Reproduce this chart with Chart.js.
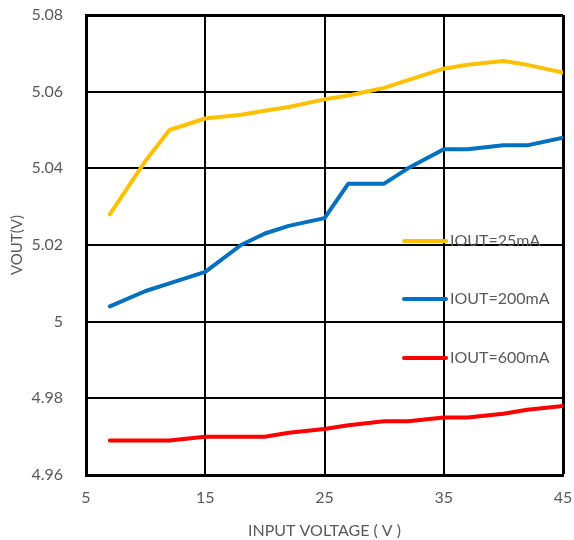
<!DOCTYPE html>
<html><head><meta charset="utf-8">
<script src="https://cdn.jsdelivr.net/npm/chart.js@4/dist/chart.umd.min.js"></script>
<style>html,body{margin:0;padding:0;background:#fff}#wrap{width:574px;height:540px}</style>
</head><body><div id="wrap"><canvas id="c" width="574" height="540"></canvas></div>
<script>
const inputVoltage = [7, 10, 12, 15, 18, 20, 22, 25, 27, 30, 32, 35, 37, 40, 42, 45];
const vout25mA  = [5.028, 5.042, 5.050, 5.053, 5.054, 5.055, 5.056, 5.058, 5.059, 5.061, 5.063, 5.066, 5.067, 5.068, 5.067, 5.065];
const vout200mA = [5.004, 5.008, 5.010, 5.013, 5.020, 5.023, 5.025, 5.027, 5.036, 5.036, 5.040, 5.045, 5.045, 5.046, 5.046, 5.048];
const vout600mA = [4.969, 4.969, 4.969, 4.970, 4.970, 4.970, 4.971, 4.972, 4.973, 4.974, 4.974, 4.975, 4.975, 4.976, 4.977, 4.978];
const seriesNames = ["IOUT=25mA", "IOUT=200mA", "IOUT=600mA"];
const xTickLabels = ["5", "15", "25", "35", "45"];
const yTickLabels = ["4.96", "4.98", "5", "5.02", "5.04", "5.06", "5.08"];

const FONT = "Lato, 'Open Sans', sans-serif";
const GRAY = "#595959";
const colors = ["#FFC000", "#0070C0", "#FF0000"];
const mk = arr => inputVoltage.map((x, i) => ({x, y: arr[i]}));

const legendPlugin = {
  id: 'inlineLegend',
  afterDatasetsDraw(chart) {
    const ctx = chart.ctx;
    const ys = [241, 299, 358];
    ctx.save();
    chart.data.datasets.forEach((ds, i) => {
      ctx.strokeStyle = ds.borderColor;
      ctx.lineWidth = 4;
      ctx.lineCap = 'round';
      ctx.beginPath();
      ctx.moveTo(404, ys[i]);
      ctx.lineTo(446, ys[i]);
      ctx.stroke();
      ctx.fillStyle = GRAY;
      ctx.font = "16px " + FONT;
      ctx.textBaseline = 'middle';
      ctx.textAlign = 'left';
      ctx.fillText(ds.label, 450, ys[i]);
    });
    ctx.restore();
  }
};

const gridW = (ctx, maxV) => (Math.abs(ctx.tick.value - maxV) < 1e-9 ? 3 : 2);

new Chart(document.getElementById('c'), {
  type: 'line',
  data: {
    datasets: [
      {label: seriesNames[0], data: mk(vout25mA), borderColor: colors[0]},
      {label: seriesNames[1], data: mk(vout200mA), borderColor: colors[1]},
      {label: seriesNames[2], data: mk(vout600mA), borderColor: colors[2]}
    ].map(d => Object.assign(d, {borderWidth: 4, pointRadius: 0, tension: 0, fill: false, borderCapStyle: 'round', borderJoinStyle: 'round'}))
  },
  plugins: [legendPlugin],
  options: {
    responsive: false,
    animation: false,
    layout: {padding: {left: 8, right: 11, top: 15, bottom: 0}},
    plugins: {legend: {display: false}, tooltip: {enabled: false}, title: {display: false}},
    scales: {
      x: {
        type: 'linear', min: 5, max: 45,
        afterBuildTicks: s => { s.ticks = xTickLabels.map(v => ({value: parseFloat(v)})); },
        afterFit: s => { s.height = 65; s.paddingLeft = 0; s.paddingRight = 0; },
        grid: {color: '#000', lineWidth: c => gridW(c, 45), drawTicks: false},
        border: {color: '#000', width: 3},
        ticks: {color: GRAY, font: {family: FONT, size: 16}, padding: 13, maxRotation: 0,
          callback: (v) => xTickLabels.find(t => parseFloat(t) === v) ?? ''},
        title: {display: true, text: 'INPUT VOLTAGE ( V )', color: GRAY, font: {family: FONT, size: 16}, padding: {top: 4, bottom: 0}}
      },
      y: {
        type: 'linear', min: 4.96, max: 5.08,
        afterBuildTicks: s => { s.ticks = yTickLabels.map(v => ({value: parseFloat(v)})); },
        afterFit: s => { s.width = 78; s.paddingTop = 0; s.paddingBottom = 0; },
        grid: {color: '#000', lineWidth: c => gridW(c, 5.08), drawTicks: false},
        border: {color: '#000', width: 3},
        ticks: {color: GRAY, font: {family: FONT, size: 16}, padding: 23,
          callback: (v) => yTickLabels.find(t => Math.abs(parseFloat(t) - v) < 1e-9) ?? ''},
        title: {display: true, text: 'VOUT(V)', color: GRAY, font: {family: FONT, size: 15}, padding: {top: 0, bottom: 0}}
      }
    }
  }
});
</script></body></html>
